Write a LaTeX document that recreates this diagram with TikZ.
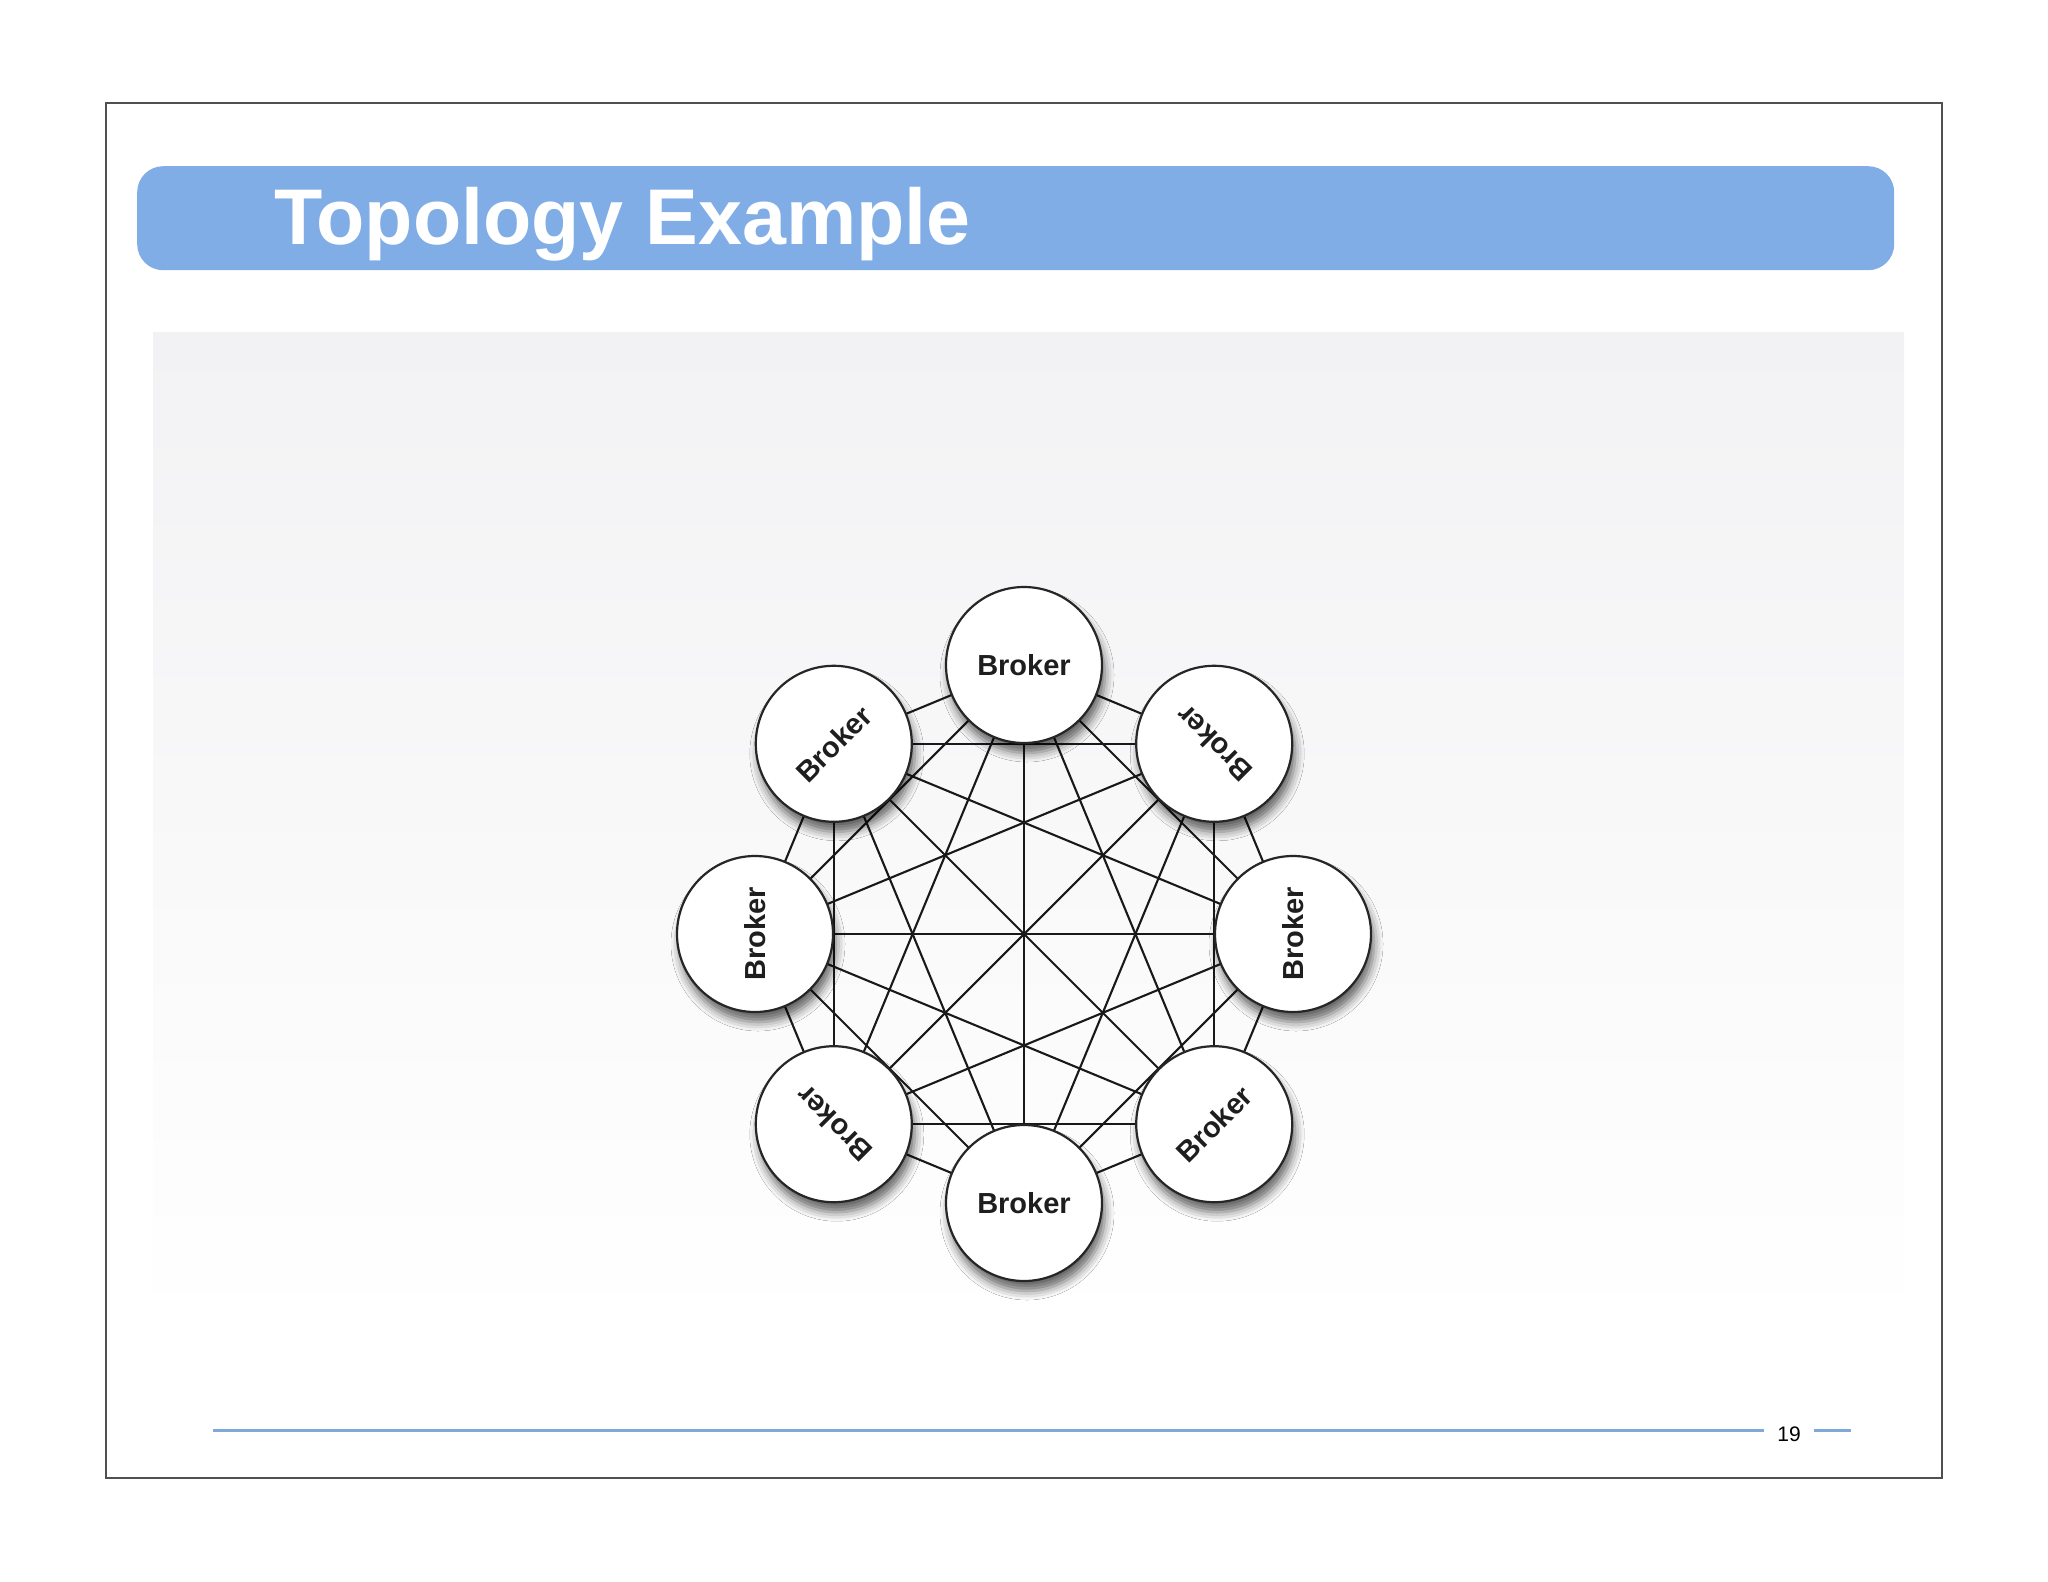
\documentclass[tikz,border=0pt]{standalone}
\usepackage{fontspec}
\setmainfont{Liberation Sans}
\usetikzlibrary{shadows.blur,backgrounds,calc}
\definecolor{titleblue}{HTML}{80ADE5}
\definecolor{footblue}{HTML}{7FA9DA}
\definecolor{framegray}{HTML}{505050}
\definecolor{panelgray}{HTML}{F2F2F4}
\definecolor{textdark}{HTML}{1E1E1E}
\begin{document}
\begin{tikzpicture}[x=1pt,y=1pt,
  brokercircle/.style={circle, draw=black!85, line width=2.2pt, fill=white,
    minimum size=156pt, inner sep=0pt,
    blur shadow={shadow xshift=3pt, shadow yshift=-10pt, shadow blur radius=9pt, shadow opacity=60}},
  brokerlabel/.style={font=\fontsize{29}{34}\selectfont\bfseries, text=textdark, inner sep=0pt},
  link/.style={draw=black!90, line width=2.1pt},
  footline/.style={draw=footblue, line width=3pt}]
\useasboundingbox (0,0) rectangle (2048,-1582);
% slide frame
\draw[framegray, line width=1.5pt] (106,-103) rectangle (1942,-1478);
% title bar
\node[fill=titleblue, rounded corners=26pt, minimum width=1757pt, minimum height=104pt,
  inner sep=0pt, anchor=north west] (titlebar) at (137,-166) {};
\node[anchor=base west, text=white, font=\fontsize{79}{94}\selectfont\bfseries, inner sep=0pt]
  (title) at (274,-244) {Topology Example};
% nodes
\coordinate (c) at (1024,-934);
\foreach \a/\r [count=\i] in {90/0,135/45,180/90,225/135,270/0,315/45,0/90,45/135}{
  \node[brokercircle] (b\i) at ($(c)+(\a:269)$) {};
  \node[brokerlabel, rotate=\r] (t\i) at (b\i) {Broker};
}
\begin{scope}[on background layer]
  \shade[top color=panelgray, bottom color=white] (153,-332) rectangle (1904,-1330);
  \foreach \i in {1,...,8}{
    \foreach \j in {1,...,8}{
      \ifnum\j>\i
        \draw[link] (b\i.center) -- (b\j.center);
      \fi
    }
  }
\end{scope}
% footer
\node[font=\fontsize{21}{24}\selectfont, inner sep=0pt] (pnum) at (1789,-1434) {19};
\coordinate (fl) at (213,-1430);
\coordinate (fr) at (1851,-1430);
\draw[footline] (fl) -- ([xshift=-13pt]pnum.west |- fl);
\draw[footline] ([xshift=13pt]pnum.east |- fr) -- (fr);
\end{tikzpicture}
\end{document}
